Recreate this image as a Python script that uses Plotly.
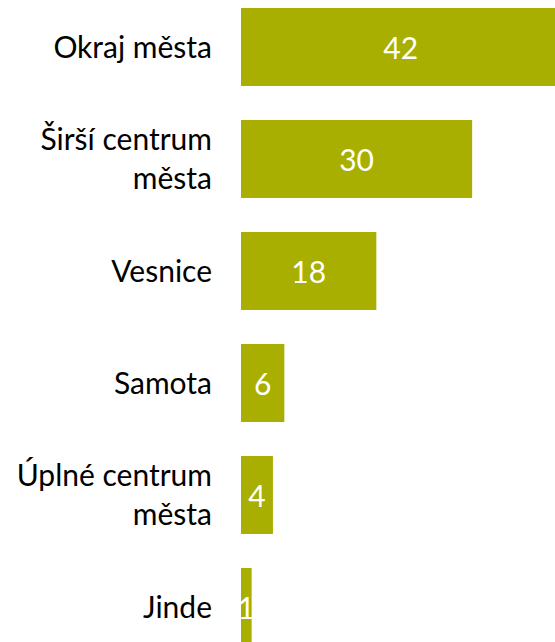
import plotly.graph_objects as go

categories = ["Okraj města", "Širší centrum<br>města", "Vesnice", "Samota", "Úplné centrum<br>města", "Jinde"]
values = [42, 30.4, 17.8, 5.7, 4.2, 1.4]

BAR_COLOR = "#A8AF00"
FONT = "Lato"

fig = go.Figure(go.Bar(
    y=categories,
    x=values,
    orientation="h",
    marker=dict(color=BAR_COLOR, line=dict(width=0)),
    texttemplate="%{x:.0f}",
    textposition="inside",
    insidetextanchor="middle",
    textangle=0,
    insidetextfont=dict(color="white", size=30, family=FONT),
    cliponaxis=True,
    hoverinfo="skip",
))

fig.update_layout(
    width=555,
    height=642,
    margin=dict(l=241, r=0, t=0, b=0),
    paper_bgcolor="white",
    plot_bgcolor="white",
    bargap=0.304,
    showlegend=False,
    uniformtext=dict(minsize=30, mode="show"),
    font=dict(family=FONT, size=30, color="black"),
)
fig.update_xaxes(range=[0, 41.3], visible=False, fixedrange=True)
fig.update_yaxes(
    range=[5.3125, -0.4196],
    showgrid=False, zeroline=False, showline=False,
    ticks="", ticklabelstandoff=28,
    tickfont=dict(family=FONT, size=30, color="black"),
)

fig.write_html(
    "out.html",
    config={"displayModeBar": False, "staticPlot": True},
    post_script="document.body.style.margin='0';document.body.style.overflow='hidden';",
)
